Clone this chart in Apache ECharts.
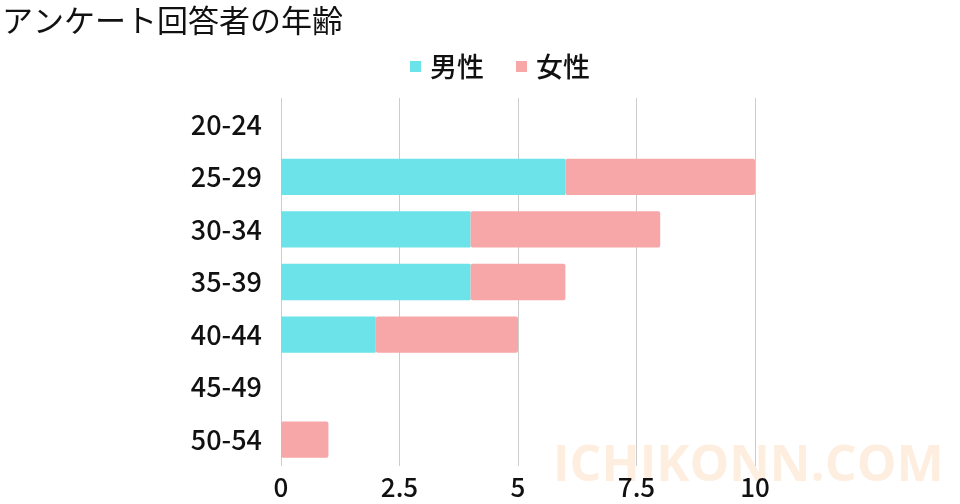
<!DOCTYPE html>
<html>
<head>
<meta charset="utf-8">
<script src="https://cdn.jsdelivr.net/npm/echarts@6/dist/echarts.min.js"></script>
<style>
  html, body { margin: 0; padding: 0; background: #fff; }
  #chart { width: 960px; height: 504px; }
</style>
</head>
<body>
<div id="chart"></div>
<script>
// 年齢層（上から順）
const ageGroups = ['20-24', '25-29', '30-34', '35-39', '40-44', '45-49', '50-54'];
const maleCounts = [0, 6, 4, 4, 2, 0, 0];
const femaleCounts = [0, 4, 4, 2, 3, 0, 1];
const xTicks = [0, 2.5, 5, 7.5, 10];

const font = '"Noto Sans CJK JP", "Noto Sans", sans-serif';

let myChart = echarts.init(document.getElementById('chart'));
myChart.setOption({
  animation: false,
  textStyle: { fontFamily: font },
  title: {
    text: 'アンケート回答者の年齢',
    left: -3,
    top: 0,
    textStyle: { fontSize: 31, fontWeight: 'normal', color: '#111', fontFamily: font }
  },
  legend: {
    top: 48,
    left: 405,
    itemWidth: 11,
    itemHeight: 11,
    itemGap: 32,
    icon: 'rect',
    textStyle: { fontSize: 27, fontWeight: 500, color: '#111', fontFamily: font, padding: [0, 0, 0, 4] },
    data: ['男性', '女性']
  },
  graphic: [{
    type: 'text',
    left: 553,
    top: 442,
    z: -1,
    style: {
      text: 'ICHIKONN.COM',
      fontSize: 50,
      fontWeight: 'bold',
      fontFamily: '"Open Sans", sans-serif',
      fill: 'rgba(250, 200, 150, 0.3)'
    }
  }],
  grid: { left: 281, right: 205, top: 98, bottom: 38, containLabel: false },
  xAxis: {
    type: 'value',
    min: xTicks[0],
    max: xTicks[xTicks.length - 1],
    interval: 2.5,
    axisLine: { show: false },
    axisTick: { show: false },
    axisLabel: { fontSize: 26, fontWeight: 500, color: '#111', margin: 8, fontFamily: font },
    splitLine: { lineStyle: { color: '#cccccc', width: 1 } }
  },
  yAxis: {
    type: 'category',
    inverse: true,
    data: ageGroups,
    axisLine: { show: false },
    axisTick: { show: false },
    axisLabel: { fontSize: 27, fontWeight: 500, color: '#111', margin: 19, fontFamily: font }
  },
  series: [{
    name: '男性',
    type: 'bar',
    stack: 'total',
    barCategoryGap: '31%',
    itemStyle: { color: '#6be3e8', borderRadius: 1 },
    data: maleCounts
  }, {
    name: '女性',
    type: 'bar',
    stack: 'total',
    barCategoryGap: '31%',
    itemStyle: { color: '#f7a7a7', borderRadius: 2 },
    data: femaleCounts
  }]
});
</script>
</body>
</html>
